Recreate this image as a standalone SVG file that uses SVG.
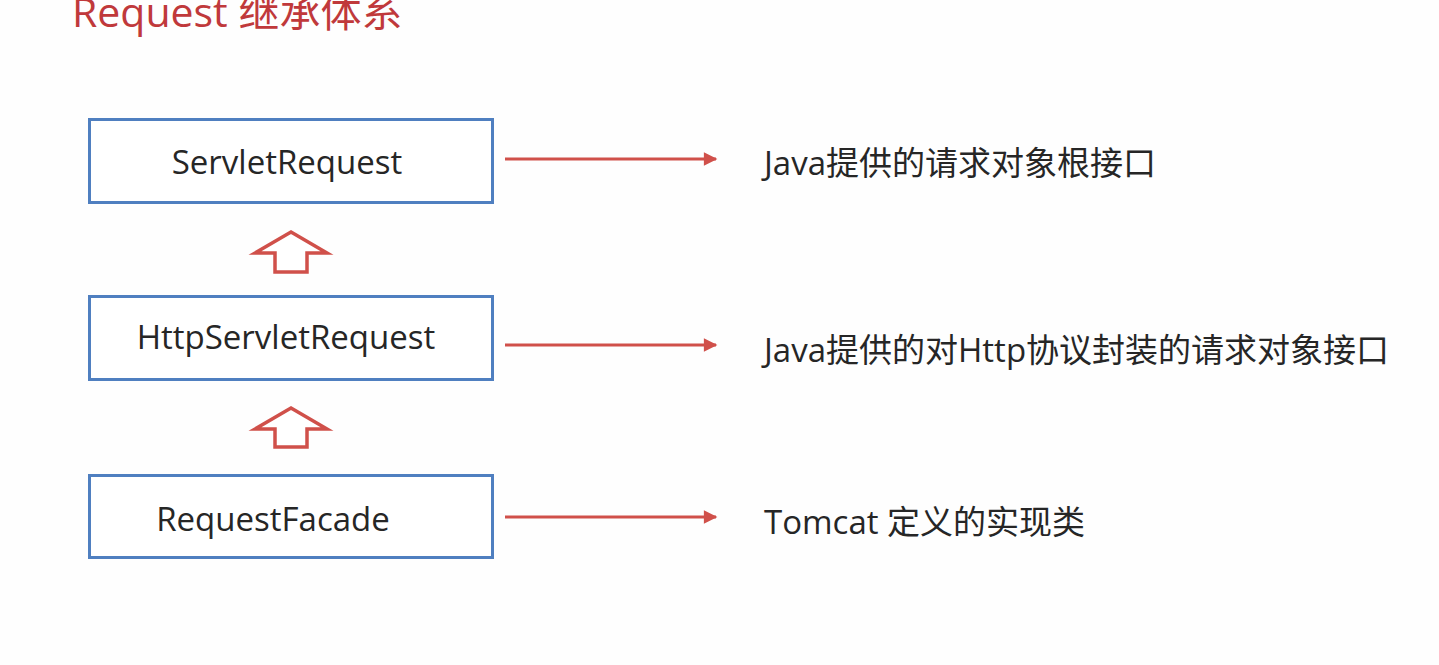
<svg xmlns="http://www.w3.org/2000/svg" width="1439" height="665" viewBox="0 0 1439 665">
<style>
.box{fill:#ffffff;stroke:#4f7fc0;stroke-width:3}
.lbl{font-family:"Open Sans","Noto Sans","Noto Sans CJK SC",sans-serif;font-size:33px;fill:#262626}
.desc{font-family:"Open Sans","Noto Sans CJK SC",sans-serif;font-size:33px;fill:#262626}
.conn{stroke:#d0504a;stroke-width:3;fill:none}
.up{fill:#ffffff;stroke:#d0504a;stroke-width:3.5;stroke-linejoin:miter}
.title{font-family:"Open Sans","Noto Sans CJK SC",sans-serif;font-size:41px;fill:#c0393b}
</style>
<defs>
<marker id="ah" viewBox="0 0 10 10" refX="9" refY="5" markerWidth="5" markerHeight="4.5" orient="auto" markerUnits="strokeWidth">
<path d="M0,0 L10,5 L0,10 z" fill="#d0504a"/>
</marker>
</defs>
<rect width="1439" height="665" fill="#fefefe"/>
<text class="title" x="72" y="27">Request 继承体系</text>
<g id="node-servletrequest">
<rect class="box" x="89.5" y="119.5" width="403" height="83"/>
<text class="lbl" x="287" y="174" text-anchor="middle">ServletRequest</text>
</g>
<g id="node-httpservletrequest">
<rect class="box" x="89.5" y="296.5" width="403" height="83"/>
<text class="lbl" x="286" y="349" text-anchor="middle">HttpServletRequest</text>
</g>
<g id="node-requestfacade">
<rect class="box" x="89.5" y="475.5" width="403" height="82"/>
<text class="lbl" x="273" y="531" text-anchor="middle">RequestFacade</text>
</g>
<g id="desc1"><text class="desc" x="764" y="175">Java提供的请求对象根接口</text></g>
<g id="desc2"><text class="desc" x="764" y="362">Java提供的对Http协议封装的请求对象接口</text></g>
<g id="desc3"><text class="desc" x="764" y="534">Tomcat 定义的实现类</text></g>
<g id="connectors">
<line class="conn" x1="505" y1="159" x2="716" y2="159" marker-end="url(#ah)"/>
<line class="conn" x1="505" y1="345" x2="716" y2="345" marker-end="url(#ah)"/>
<line class="conn" x1="505" y1="517" x2="716" y2="517" marker-end="url(#ah)"/>
<path class="up" d="M291,232 L327,253 L307,253 L307,272 L275,272 L275,253 L255,253 Z"/>
<path class="up" d="M291,408 L327,429 L307,429 L307,447 L275,447 L275,429 L255,429 Z"/>
</g>
</svg>
